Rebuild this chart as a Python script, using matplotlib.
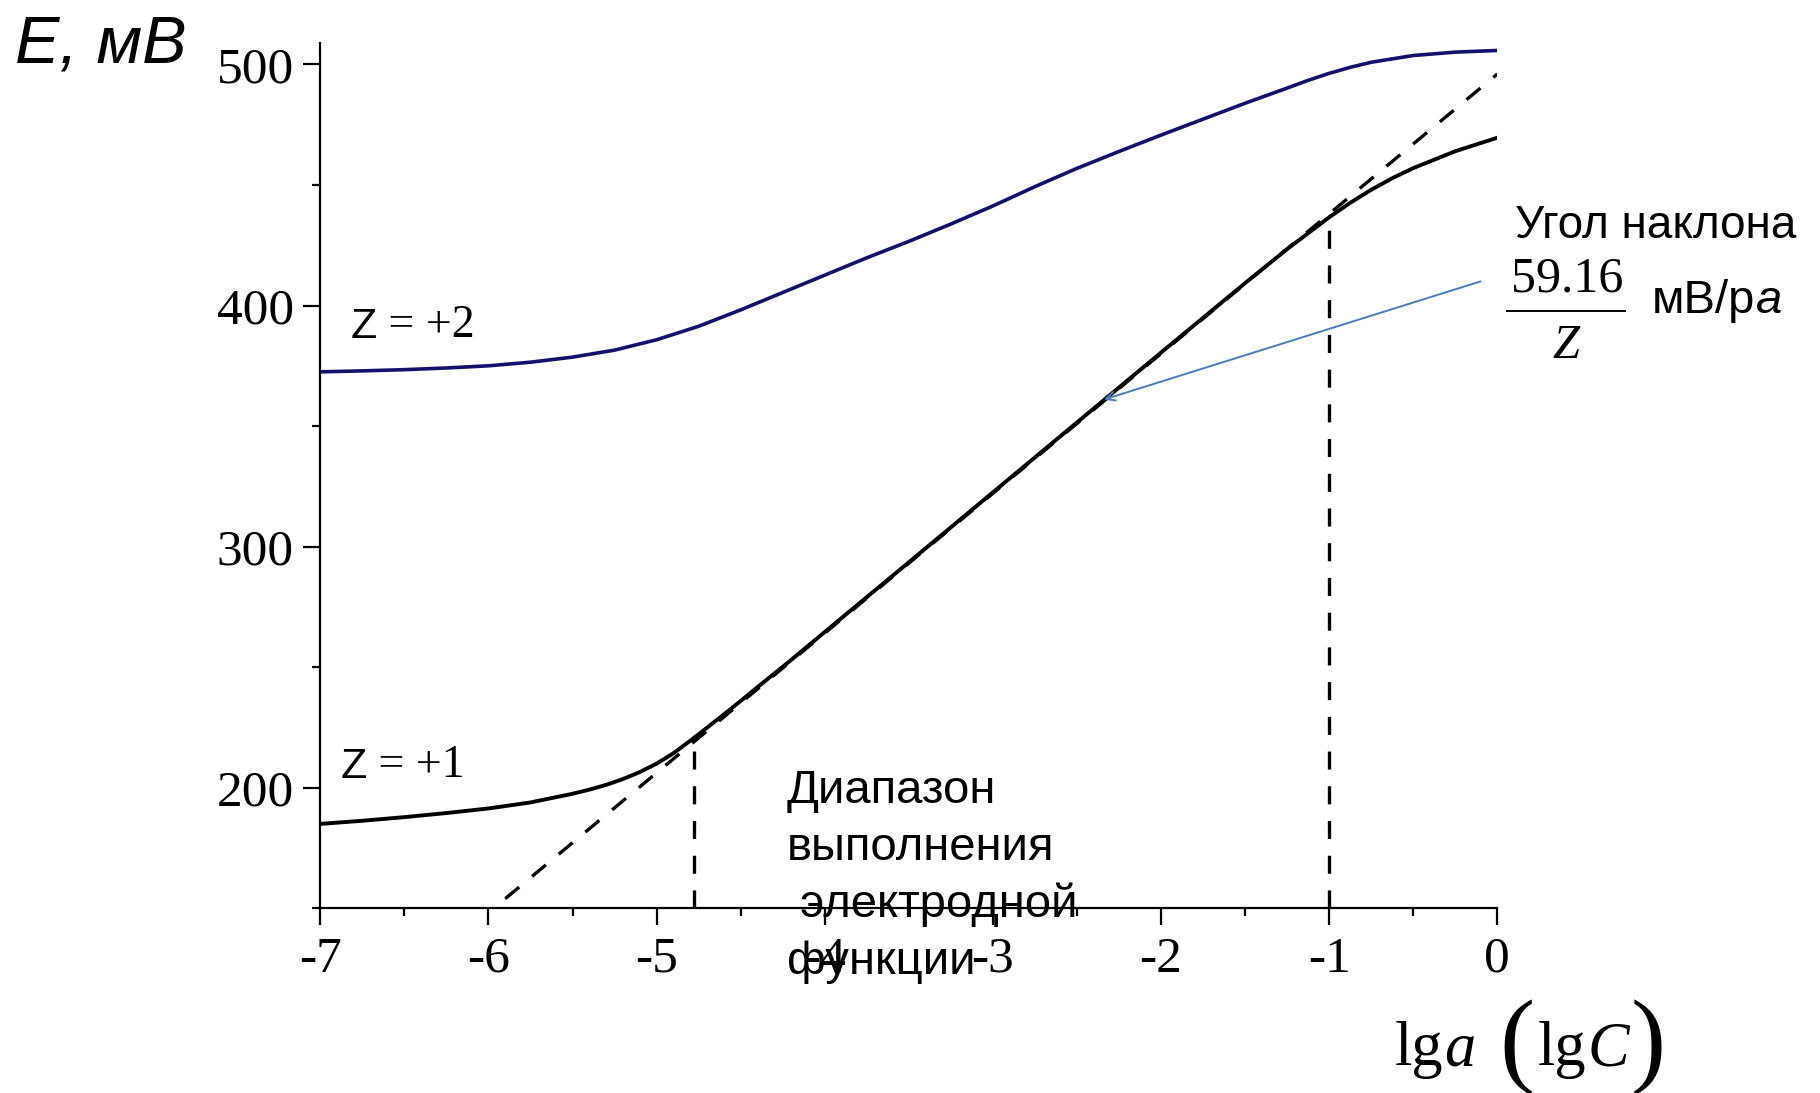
import matplotlib
matplotlib.use('Agg')
import matplotlib.pyplot as plt
from matplotlib.lines import Line2D
from matplotlib.ticker import FixedLocator, MultipleLocator

plt.rcParams['lines.scale_dashes'] = False

# electrode potential E (mV) vs lg a
lg_a_z2 = [-7.0, -6.75, -6.5, -6.25, -6.0, -5.75, -5.5, -5.25, -5.0, -4.75, -4.5,
           -4.25, -4.0, -3.75, -3.5, -3.25, -3.0, -2.75, -2.5, -2.25, -2.0, -1.75,
           -1.5, -1.25, -1.125, -1.0, -0.875, -0.75, -0.5, -0.25, 0.0]
e_z2 = [372.5, 372.9, 373.4, 374.1, 375.0, 376.5, 378.6, 381.5, 385.8, 391.4, 398.2,
        405.4, 412.6, 419.8, 426.6, 433.8, 441.3, 449.3, 456.9, 463.9, 470.7, 477.3,
        483.9, 490.2, 493.4, 496.3, 498.8, 500.9, 503.7, 505.1, 505.8]

lg_a_z1 = [-7.0, -6.75, -6.5, -6.25, -6.0, -5.75, -5.5, -5.4, -5.3, -5.2, -5.1, -5.0,
           -4.9, -4.8, -4.7, -4.6, -4.5, -4.4, -4.2, -4.0, -3.5, -3.0, -2.5, -2.0,
           -1.5, -1.25, -1.0, -0.875, -0.75, -0.625, -0.5, -0.25, 0.0]
e_z1 = [185.0, 186.3, 187.8, 189.5, 191.4, 193.9, 197.5, 199.2, 201.2, 203.6, 206.5, 210.0,
        214.3, 219.5, 224.9, 230.4, 236.0, 241.7, 253.0, 264.6, 293.5, 322.5, 351.5, 380.5,
        409.3, 423.4, 436.6, 442.6, 448.0, 452.8, 457.0, 464.0, 469.6]

# nernstian slope line and the limits of the linear range
tangent_x = [-5.9, 0.0]
tangent_e = [154.0, 496.0]
range_x = [-4.78, -1.0]
range_top = [222.0, 438.0]

x_ticks = [-7, -6, -5, -4, -3, -2, -1, 0]
x_labels = ['-7', '-6', '-5', '-4', '-3', '-2', '-1', '0']
y_ticks = [200, 300, 400, 500]
y_labels = ['200', '300', '400', '500']
y_minor = [150, 250, 350, 450]

range_lines = ['Диапазон', 'выполнения', ' электродной', 'функции']

W, H = 1820, 1093
fig = plt.figure(figsize=(W / 100, H / 100), dpi=100)
ax = fig.add_axes([0.1760, 0.1690, 0.6467, 0.7919])
ax.set_xlim(-7, 0)
ax.set_ylim(150, 509)

for s in ['top', 'right']:
    ax.spines[s].set_visible(False)
for s in ['left', 'bottom']:
    ax.spines[s].set_linewidth(1.6)

ax.set_xticks(x_ticks)
ax.set_xticklabels(x_labels, fontfamily='Liberation Serif', fontsize=37)
ax.xaxis.set_minor_locator(MultipleLocator(0.5))
ax.set_yticks(y_ticks)
ax.set_yticklabels(y_labels, fontfamily='Liberation Serif', fontsize=37)
ax.yaxis.set_minor_locator(FixedLocator(y_minor))
ax.tick_params(which='major', direction='out', length=12, width=1.6, pad=7)
ax.tick_params(which='minor', direction='out', length=6, width=1.6)
ax.tick_params(axis='x', which='major', pad=8)

ax.plot(lg_a_z2, e_z2, color='#12126b', lw=2.6)
ax.plot(lg_a_z1, e_z1, color='black', lw=2.8)
ax.plot(tangent_x, tangent_e, color='black', lw=2.4, dashes=(13, 12))
for x, top in zip(range_x, range_top):
    ax.plot([x, x], [150, top], color='black', lw=2.4, dashes=(13, 12))

ax.annotate('', xy=(-2.34, 361), xytext=(-0.10, 410),
            arrowprops=dict(arrowstyle='->', color='#4a7ebb', lw=1.4,
                            mutation_scale=16, shrinkA=0, shrinkB=0))

# curve labels: sans "Z", serif rest
for x0, y0, txt in [(-6.82, 386.7, ' = +2'), (-6.88, 204.1, ' = +1')]:
    z = ax.text(x0, y0, 'Z', family='Liberation Sans', fontsize=31, va='baseline')
    ax.annotate(txt, xy=(1, 0), xycoords=z, family='Liberation Serif', fontsize=33,
                va='bottom', ha='left')

for i, line in enumerate(range_lines):
    ax.annotate(line, xy=(-4.225, 193.8), xytext=(0, -41 * i), textcoords='offset points',
                family='Liberation Sans', fontsize=34, va='baseline', ha='left')

fig.text(0.0082, 0.9424, 'E, мВ', family='Liberation Sans', style='italic',
         fontsize=48, va='baseline')

renderer = fig.canvas.get_renderer()


def chain(x_px, base_px, pieces):
    # put text pieces one after another on a shared baseline (pixel coords from top-left,
    # dy > 0 moves a piece down)
    for txt, kw, gap, dy in pieces:
        x_px += gap
        t = fig.text(x_px / W, (H - base_px - dy) / H, txt, va='baseline', ha='left', **kw)
        x_px = t.get_window_extent(renderer=renderer).x1


serif = dict(family='Liberation Serif', fontsize=45)
serif_it = dict(family='Liberation Serif', style='italic', fontsize=45)
paren = dict(family='Liberation Serif', fontsize=76)
chain(1395, 1065, [('lg', serif, 0, 0), ('a', serif_it, 1, 0), ('(', paren, 24, 8),
                   ('lg', serif, 3, 0), ('C', serif_it, 1, 0), (')', paren, 1, 8)])

fig.text(0.8324, 0.7823, 'Угол наклона', family='Liberation Sans', fontsize=33,
         va='baseline')

# slope fraction 59.16 / Z
fig.text(1567 / W, (H - 292) / H, '59.16', family='Liberation Serif', fontsize=36,
         ha='center', va='baseline')
fig.add_artist(Line2D([1507 / W, 1625 / W], [(H - 311) / H] * 2, color='black', lw=1.4))
fig.text(1566 / W, (H - 358) / H, 'Z', family='Liberation Serif', style='italic',
         fontsize=35, ha='center', va='baseline')

sans = dict(family='Liberation Sans', fontsize=34)
sans_it = dict(family='Liberation Sans', style='italic', fontsize=34)
chain(1652, 313, [('мВ/р', sans, 0, 0), ('a', sans_it, 1, 0)])

fig.savefig('out.png', dpi=100)
